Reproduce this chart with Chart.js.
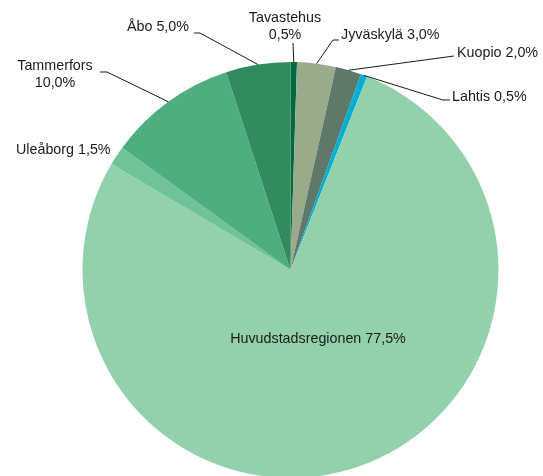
<!DOCTYPE html>
<html>
<head>
<meta charset="utf-8">
<script src="https://cdn.jsdelivr.net/npm/chart.js@4/dist/chart.umd.min.js"></script>
<style>
  html, body { margin: 0; padding: 0; background: #fff; overflow: hidden; }
</style>
</head>
<body>
<canvas id="regionChart" width="543" height="480"></canvas>
<script>
// Andel per region (procent), medsols från klockan tolv
const regions = ['Tavastehus', 'Jyväskylä', 'Kuopio', 'Lahtis', 'Huvudstadsregionen', 'Uleåborg', 'Tammerfors', 'Åbo'];
const shares = [0.5, 3.0, 2.0, 0.5, 77.5, 1.5, 10.0, 5.0];
const sliceColors = ['#006b3f', '#9aab8c', '#5e7869', '#00afd6', '#93d1ad', '#70c398', '#4fae80', '#328b5e'];

// Etikettplacering: text, ankare, justering och brytpunkter för hänvisningslinjen
const labelLayout = [
  { lines: ['Tavastehus', '0,5%'], x: 285, y: 18, align: 'center', leader: [[293, 43]] },
  { lines: ['Jyväskylä 3,0%'], x: 341, y: 35, align: 'left', leader: [[333, 40], [339, 40]] },
  { lines: ['Kuopio 2,0%'], x: 457, y: 53, align: 'left', leader: [[454, 56]] },
  { lines: ['Lahtis 0,5%'], x: 452, y: 97, align: 'left', leader: [[443, 100], [450, 100]] },
  { lines: ['Huvudstadsregionen 77,5%'], x: 318, y: 339, align: 'center', leader: null },
  { lines: ['Uleåborg 1,5%'], x: 16, y: 150, align: 'left', leader: null },
  { lines: ['Tammerfors', '10,0%'], x: 55, y: 66, align: 'center', leader: [[107, 72], [100, 72]] },
  { lines: ['Åbo 5,0%'], x: 189, y: 27, align: 'right', leader: [[200, 33], [194, 33]] }
];

const FONT = '14.3px "Liberation Sans", Arial, sans-serif';
const LINE_H = 17;

const sliceLabels = {
  id: 'sliceLabels',
  afterDatasetsDraw(chart) {
    const ctx = chart.ctx;
    const arcs = chart.getDatasetMeta(0).data;
    ctx.save();
    ctx.font = FONT;
    ctx.fillStyle = '#1a1a1a';
    ctx.strokeStyle = '#1a1a1a';
    ctx.lineWidth = 1;
    ctx.textBaseline = 'middle';
    labelLayout.forEach((lab, i) => {
      const arc = arcs[i];
      if (lab.leader && arc) {
        const p = arc.getProps(['x', 'y', 'startAngle', 'endAngle', 'outerRadius'], true);
        const mid = (p.startAngle + p.endAngle) / 2;
        ctx.beginPath();
        ctx.moveTo(p.x + Math.cos(mid) * p.outerRadius, p.y + Math.sin(mid) * p.outerRadius);
        lab.leader.forEach(pt => ctx.lineTo(pt[0], pt[1]));
        ctx.stroke();
      }
      ctx.textAlign = lab.align;
      lab.lines.forEach((t, k) => ctx.fillText(t, lab.x, lab.y + k * LINE_H));
    });
    ctx.restore();
  }
};

new Chart(document.getElementById('regionChart'), {
  type: 'pie',
  data: {
    labels: regions,
    datasets: [{
      data: shares,
      backgroundColor: sliceColors,
      borderWidth: 0
    }]
  },
  options: {
    responsive: false,
    animation: false,
    layout: { padding: { left: 82, right: 44, top: 62, bottom: 2 } },
    plugins: {
      legend: { display: false },
      tooltip: { enabled: false }
    }
  },
  plugins: [sliceLabels]
});
</script>
</body>
</html>
